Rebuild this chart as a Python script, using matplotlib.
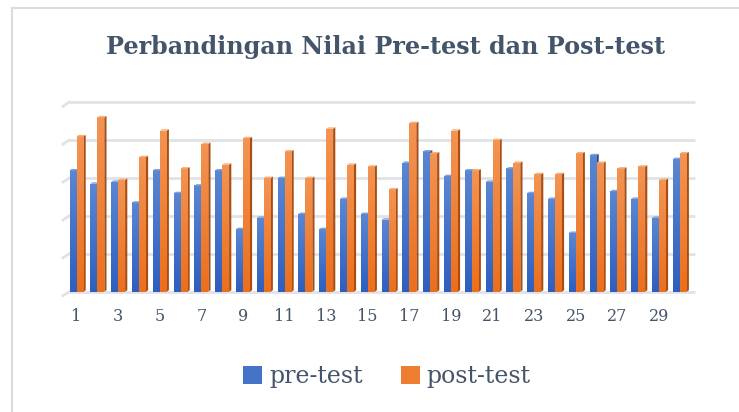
import matplotlib
matplotlib.use("Agg")
import matplotlib.pyplot as plt
import numpy as np
from matplotlib.patches import Polygon, Patch, Rectangle
from matplotlib.colors import LinearSegmentedColormap

categories = list(range(1, 31))
pre_test = [64, 57, 58, 47, 64, 52, 56, 64, 33, 39,
            60, 41, 33, 49, 41, 38, 68, 74, 61, 64,
            58, 65, 52, 49, 31, 72, 53, 49, 39, 70]
post_test = [82, 92, 59, 71, 85, 65, 78, 67, 81, 60,
             74, 60, 86, 67, 66, 54, 89, 73, 85, 64,
             80, 68, 62, 62, 73, 68, 65, 66, 59, 73]
tick_labels = [str(c) if c % 2 == 1 else "" for c in categories]
series_names = ["pre-test", "post-test"]

W, H = 739, 412
fig = plt.figure(figsize=(W / 100, H / 100), dpi=100)
fig.patch.set_facecolor("white")

# chart border
fig.add_artist(Rectangle((12 / W, -0.05), 1.2, 1 - 8 / H + 0.05, transform=fig.transFigure,
                         fill=False, edgecolor="#D9DDE3", linewidth=1.5))

left_px, right_px, bottom_px, top_px = 63, 695, 291.7, 102.3
ax = fig.add_axes([left_px / W, (H - bottom_px) / H, (right_px - left_px) / W, (bottom_px - top_px) / H])
ax.set_facecolor("none")
for s in ax.spines.values():
    s.set_visible(False)

px_per_cat = 20.8
x0_cat = 76.5
xmin = 1 - (x0_cat - left_px) / px_per_cat
xmax = 1 + (right_px - x0_cat) / px_per_cat
ux = 1 / px_per_cat                 # data units per pixel (x)
uy = 100 / (bottom_px - top_px)     # data units per pixel (y)

# gridlines with 3D slanted left end
for g in [0, 20, 40, 60, 80, 100]:
    ax.plot([xmin + 6 * ux, xmax], [g, g], color="#DFE2E7", lw=2, solid_capstyle="butt", zorder=1, clip_on=False)
    ax.plot([xmin, xmin + 6 * ux], [g - 4 * uy, g], color="#DFE2E7", lw=2, zorder=1, clip_on=False)

x = np.array(categories, dtype=float)
bw = 7 * ux
blue_cmap = LinearSegmentedColormap.from_list("b", ["#2F5FBE", "#5A86D2"])
orange_cmap = LinearSegmentedColormap.from_list("o", ["#EC6F1C", "#F39453"])
side_cols = ["#24478C", "#A94D12"]
top_cols = ["#7FA2DE", "#F6B07F"]

grad = np.linspace(0, 1, 64).reshape(-1, 1)
for si, (vals, cmap, base) in enumerate([(pre_test, blue_cmap, "#4472C4"), (post_test, orange_cmap, "#ED7D31")]):
    xs = x - bw / 2 if si == 0 else x + bw / 2
    bars = ax.bar(xs, vals, width=bw, color=base, zorder=3 + si * 2, linewidth=0)
    d, dy = 2.2 * ux, 1.5 * uy
    for b in bars:
        bx0, bx1, h = b.get_x(), b.get_x() + b.get_width(), b.get_height()
        ax.imshow(grad, extent=[bx0, bx1, 0, h], origin="lower", cmap=cmap, aspect="auto",
                  zorder=3 + si * 2 + 0.5, interpolation="bilinear")
        ax.add_patch(Polygon([(bx1, 0), (bx1 + d, dy), (bx1 + d, h + dy), (bx1, h)], closed=True,
                             facecolor=side_cols[si], edgecolor="none", zorder=2.9 + si * 2))
        ax.add_patch(Polygon([(bx0, h), (bx1, h), (bx1 + d, h + dy), (bx0 + d, h + dy)], closed=True,
                             facecolor=top_cols[si], edgecolor="none", zorder=3.9 + si * 2))

ax.set_xlim(xmin, xmax)
ax.set_ylim(0, 100)
ax.set_yticks([])
ax.set_xticks(x)
ax.set_xticklabels(tick_labels, fontsize=11.5, color="#44546A", family="DejaVu Serif")
ax.tick_params(axis="x", length=0, pad=12)

fig.text(385 / W, 1 - 47 / H, "Perbandingan Nilai Pre-test dan Post-test", ha="center", va="center",
         fontsize=17.2, fontweight="bold", color="#44546A", family="DejaVu Serif")

handles = [Patch(facecolor="#4472C4", edgecolor="none"), Patch(facecolor="#ED7D31", edgecolor="none")]
fig.legend(handles, series_names, loc="center", bbox_to_anchor=(387 / W, 1 - 377 / H), ncol=2, frameon=False,
           prop={"family": "DejaVu Serif", "size": 17}, labelcolor="#44546A",
           handlelength=0.8, handleheight=0.8, handletextpad=0.3, columnspacing=1.6)

fig.savefig("out.png", dpi=100)
